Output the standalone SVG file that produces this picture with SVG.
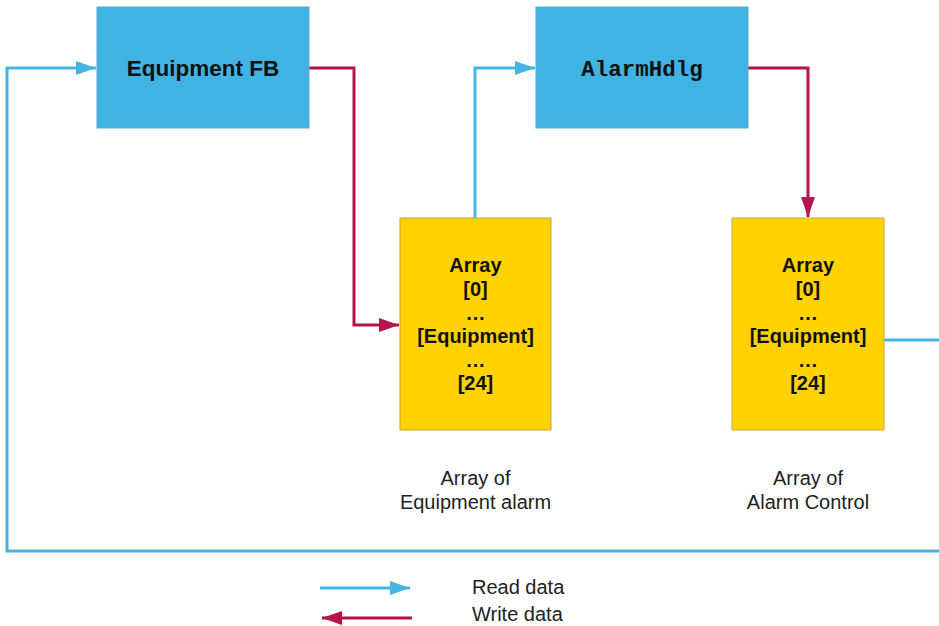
<svg xmlns="http://www.w3.org/2000/svg" width="939" height="626" viewBox="0 0 939 626">
  <style>
    .fb { fill: #41B3E3; stroke: #5AA9D0; stroke-width: 1; }
    .arr { fill: #FFD200; stroke: #C9A93A; stroke-width: 1; }
    .read { fill: none; stroke: #45B5E3; stroke-width: 3; }
    .write { fill: none; stroke: #B5134B; stroke-width: 3; }
    .title { font-family: "Liberation Sans", Arial, sans-serif; font-weight: bold; font-size: 22.5px; fill: #111; text-anchor: middle; }
    .mono { font-family: "Liberation Mono", "Courier New", monospace; font-weight: bold; font-size: 22.5px; fill: #111; text-anchor: middle; }
    .cell { font-family: "Liberation Sans", Arial, sans-serif; font-weight: bold; font-size: 20px; fill: #111; text-anchor: middle; }
    .cap { font-family: "Liberation Sans", Arial, sans-serif; font-size: 20px; fill: #222; text-anchor: middle; }
    .leg { font-family: "Liberation Sans", Arial, sans-serif; font-size: 20px; fill: #222; }
  </style>
  <defs>
    <marker id="headRead" markerUnits="userSpaceOnUse" markerWidth="20" markerHeight="14" refX="20" refY="7" orient="auto">
      <path d="M0,0 L20,7 L0,14 Z" fill="#45B5E3"/>
    </marker>
    <marker id="headWrite" markerUnits="userSpaceOnUse" markerWidth="20" markerHeight="14" refX="20" refY="7" orient="auto">
      <path d="M0,0 L20,7 L0,14 Z" fill="#B5134B"/>
    </marker>
  </defs>

  <rect width="939" height="626" fill="#FFFFFF"/>

  <!-- connectors -->
  <g id="connectors">
    <!-- alarm control leaves to the right ... -->
    <path class="read" d="M884,340 H941"/>
    <!-- ... and returns along the bottom into Equipment FB -->
    <path class="read" d="M941,551 H7 V68 H96" marker-end="url(#headRead)"/>
    <!-- Equipment FB writes its alarm entry -->
    <path class="write" d="M309,68 H354 V325 H399" marker-end="url(#headWrite)"/>
    <!-- AlarmHdlg reads the equipment alarm array -->
    <path class="read" d="M475,218 V68 H535" marker-end="url(#headRead)"/>
    <!-- AlarmHdlg writes alarm control -->
    <path class="write" d="M748,68 H808 V217" marker-end="url(#headWrite)"/>
  </g>

  <!-- function blocks -->
  <g id="equipment-fb">
    <rect class="fb" x="97" y="7" width="212" height="121"/>
    <text class="title" x="203" y="76">Equipment FB</text>
  </g>
  <g id="alarm-hdlg">
    <rect class="fb" x="536" y="7" width="212" height="121"/>
    <text class="mono" x="642" y="76">AlarmHdlg</text>
  </g>

  <!-- data arrays -->
  <g id="equipment-alarm-array">
    <rect class="arr" x="400" y="218" width="151" height="212"/>
    <text class="cell" x="475.5" y="272">Array</text>
    <text class="cell" x="475.5" y="296">[0]</text>
    <text class="cell" x="475.5" y="320">…</text>
    <text class="cell" x="475.5" y="343">[Equipment]</text>
    <text class="cell" x="475.5" y="367">…</text>
    <text class="cell" x="475.5" y="390">[24]</text>
    <text class="cap" x="475.5" y="485">Array of</text>
    <text class="cap" x="475.5" y="509">Equipment alarm</text>
  </g>
  <g id="alarm-control-array">
    <rect class="arr" x="732" y="218" width="152" height="212"/>
    <text class="cell" x="808" y="272">Array</text>
    <text class="cell" x="808" y="296">[0]</text>
    <text class="cell" x="808" y="320">…</text>
    <text class="cell" x="808" y="343">[Equipment]</text>
    <text class="cell" x="808" y="367">…</text>
    <text class="cell" x="808" y="390">[24]</text>
    <text class="cap" x="808" y="485">Array of</text>
    <text class="cap" x="808" y="509">Alarm Control</text>
  </g>

  <!-- legend -->
  <g id="legend">
    <line class="read" x1="320" y1="588" x2="410" y2="588" marker-end="url(#headRead)"/>
    <line class="write" x1="412" y1="618" x2="322" y2="618" marker-end="url(#headWrite)"/>
    <text class="leg" x="472" y="594">Read data</text>
    <text class="leg" x="472" y="621">Write data</text>
  </g>
</svg>
